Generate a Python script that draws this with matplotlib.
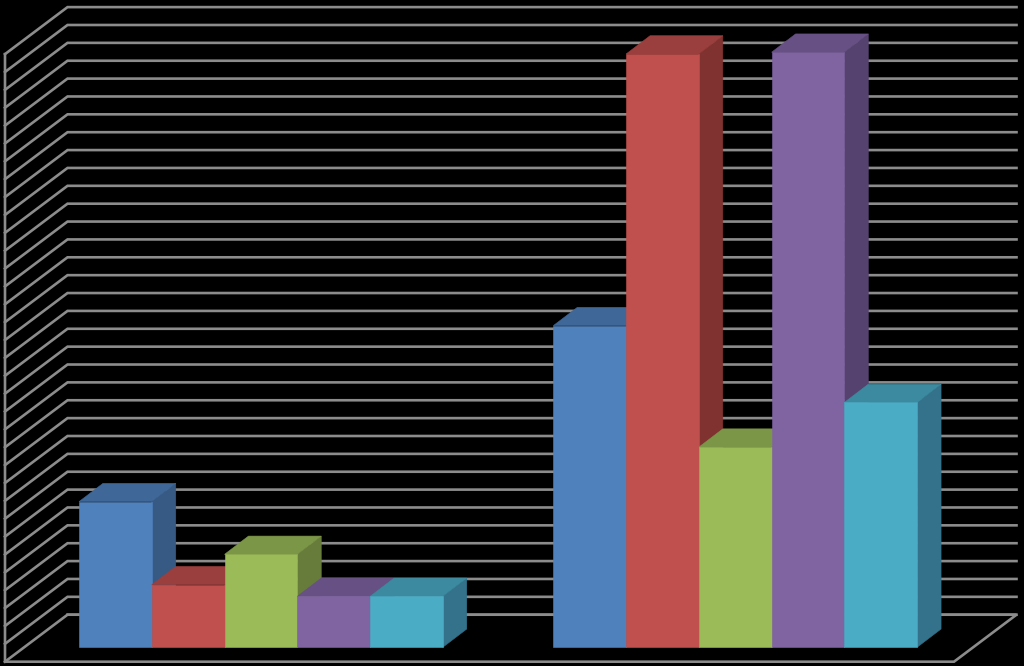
import matplotlib
matplotlib.use('Agg')
import matplotlib.pyplot as plt
import numpy as np
from matplotlib.patches import Polygon

# bar heights, one unit = one gridline step
group1 = [8.15, 3.5, 5.2, 2.85, 2.85]
group2 = [18.0, 33.2, 11.2, 33.3, 13.7]
group_start = [0, 6.52]
n_grid = 35

front_cols = ['#4f81bd', '#c0504d', '#9bbb59', '#8064a2', '#4bacc6']
top_cols = ['#3f6797', '#9a3f3d', '#7c9647', '#675083', '#3c8a9f']
side_cols = ['#375a84', '#7f3230', '#677c3b', '#55426f', '#33728a']
grid_col = '#8c8c8c'

# pixel sizes of one unit
px_x = 72.75
px_y = 17.87
x0 = 79.0
y0 = 647.3

# depth of bars and of the whole floor, in axis units
bar_dx = 24 / px_x
bar_dy = 18.3 / px_y
wall_dx = 62.5 / px_x
wall_dy = 47 / px_y

# floor corners
left = (5 - x0) / px_x
right = (954 - x0) / px_x
front = -(661.7 - y0) / px_y
back = front + wall_dy


def bar3d(ax, x, h, i):
    # thin edge in the face colour, so gridlines do not show through the seams
    ax.bar(x, h, width=1, align='edge', color=front_cols[i],
           edgecolor=front_cols[i], linewidth=0.4, zorder=3 + x)
    top = [(x, h), (x + bar_dx, h + bar_dy), (x + 1 + bar_dx, h + bar_dy), (x + 1, h)]
    side = [(x + 1, 0), (x + 1 + bar_dx, bar_dy), (x + 1 + bar_dx, h + bar_dy), (x + 1, h)]
    ax.add_patch(Polygon(side, facecolor=side_cols[i], edgecolor=side_cols[i], linewidth=0.4, zorder=2.9 + x))
    ax.add_patch(Polygon(top, facecolor=top_cols[i], edgecolor=top_cols[i], linewidth=0.4, zorder=2.95 + x))


fig = plt.figure(figsize=(10.24, 6.66), dpi=100, facecolor='black')
ax = fig.add_axes([0, 0, 1, 1], facecolor='black')
ax.set_xlim((0 - x0) / px_x, (1024 - x0) / px_x)
ax.set_ylim(-(666 - y0) / px_y, y0 / px_y)
ax.axis('off')

# walls and floor
for k in range(n_grid):
    y = back + k
    ax.plot([left, left + wall_dx, right + wall_dx], [y - wall_dy, y, y],
            color=grid_col, lw=1.9, zorder=1, solid_joinstyle='miter')
ax.plot([left + wall_dx, right + wall_dx, right, left, left],
        [back, back, front, front, front + n_grid - 1],
        color=grid_col, lw=1.9, zorder=1, solid_joinstyle='miter')

for start, vals in zip(group_start, [group1, group2]):
    for i, v in enumerate(vals):
        bar3d(ax, start + i, v, i)

fig.savefig('out.png', dpi=100, facecolor='black')
